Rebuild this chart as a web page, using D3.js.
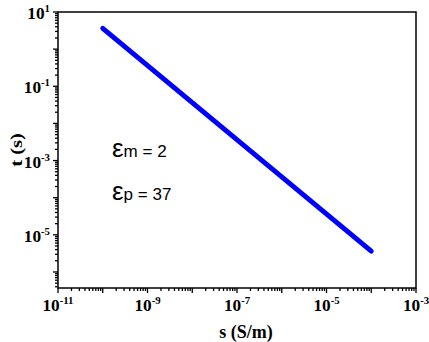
<!DOCTYPE html>
<html><head><meta charset="utf-8">
<script src="https://cdn.jsdelivr.net/npm/d3@7"></script>
<style>
html,body{margin:0;padding:0;background:#fff;}svg{display:block;}
.serif{font-family:"Liberation Serif","Times New Roman",Times,serif;font-weight:bold;}
.sans{font-family:"Liberation Sans",Arial,Helvetica,sans-serif;}
</style>
</head><body>
<script>
// Data
const sigma = [1e-10, 1e-4];          // s (S/m)
const tau = [3.63, 3.63e-6];          // t (s)
const xTickExps = [-11, -9, -7, -5, -3];
const yTickExps = [1, -1, -3, -5];
const xDomain = [1e-11, 1e-3];
const yDomain = [3.7e-7, 10];
const notes = [{sym: "ε", sub: "m", val: " = 2"}, {sym: "ε", sub: "p", val: " = 37"}];

const W = 429, H = 342;
const m = {left: 58, right: 13, top: 12, bottom: 54};
const svg = d3.select("body").append("svg").attr("width", W).attr("height", H);

const x = d3.scaleLog().domain(xDomain).range([m.left, W - m.right]);
const y = d3.scaleLog().domain(yDomain).range([H - m.bottom, m.top]);

function allTicks(dom) {
  const out = [];
  const lo = Math.floor(Math.log10(dom[0])), hi = Math.ceil(Math.log10(dom[1]));
  for (let e = lo; e <= hi; e++) for (let k = 1; k <= 9; k++) {
    const v = k * Math.pow(10, e);
    if (v >= dom[0] * 0.999 && v <= dom[1] * 1.001) out.push({v, major: k === 1});
  }
  return out;
}

const axisG = svg.append("g").attr("stroke", "#000").attr("stroke-width", 1.3);
allTicks(xDomain).forEach(t => {
  const px = x(t.v);
  axisG.append("line").attr("x1", px).attr("x2", px)
    .attr("y1", H - m.bottom).attr("y2", H - m.bottom + (t.major ? 5 : 3));
});
allTicks(yDomain).forEach(t => {
  const py = y(t.v);
  axisG.append("line").attr("y1", py).attr("y2", py)
    .attr("x1", m.left).attr("x2", m.left - (t.major ? 5 : 3));
});

svg.append("rect").attr("x", m.left).attr("y", m.top)
  .attr("width", W - m.left - m.right).attr("height", H - m.top - m.bottom)
  .attr("fill", "none").attr("stroke", "#000").attr("stroke-width", 1.5);

function powLabel(g, exp, anchor) {
  const t = g.append("text").attr("class", "serif")
    .attr("font-size", 16).attr("text-anchor", anchor).attr("fill", "#000");
  t.append("tspan").text("10");
  t.append("tspan").attr("font-size", 10).attr("dy", -7).text(exp < 0 ? "-" + (-exp) : exp);
}
xTickExps.forEach(e => {
  const g = svg.append("g").attr("transform", `translate(${x(Math.pow(10, e))},311) scale(1.08,1)`);
  powLabel(g, e, "middle");
});
yTickExps.forEach(e => {
  const g = svg.append("g").attr("transform", `translate(50,${y(Math.pow(10, e)) + 7}) scale(1.08,1)`);
  powLabel(g, e, "end");
});

svg.append("g").attr("transform", "translate(246,338)")
  .append("text").attr("class", "serif").attr("font-size", 18)
  .attr("text-anchor", "middle").text("s (S/m)");
svg.append("g").attr("transform", `translate(22,${(m.top + H - m.bottom) / 2}) rotate(-90) scale(1.2,1)`)
  .append("text").attr("class", "serif").attr("font-size", 17)
  .attr("text-anchor", "middle").text("t (s)");

svg.append("path").datum(sigma.map((s, i) => [s, tau[i]]))
  .attr("d", d3.line().x(d => x(d[0])).y(d => y(d[1])))
  .attr("fill", "none").attr("stroke", "#0000ff").attr("stroke-width", 5)
  .attr("stroke-linecap", "round");

notes.forEach((n, i) => {
  const t = svg.append("text").attr("class", "sans").attr("x", 112).attr("y", 157 + i * 43)
    .attr("font-size", 17).attr("fill", "#000");
  t.append("tspan").attr("font-size", 26).text(n.sym);
  t.append("tspan").text(n.sub + n.val);
});
</script>
</body></html>
